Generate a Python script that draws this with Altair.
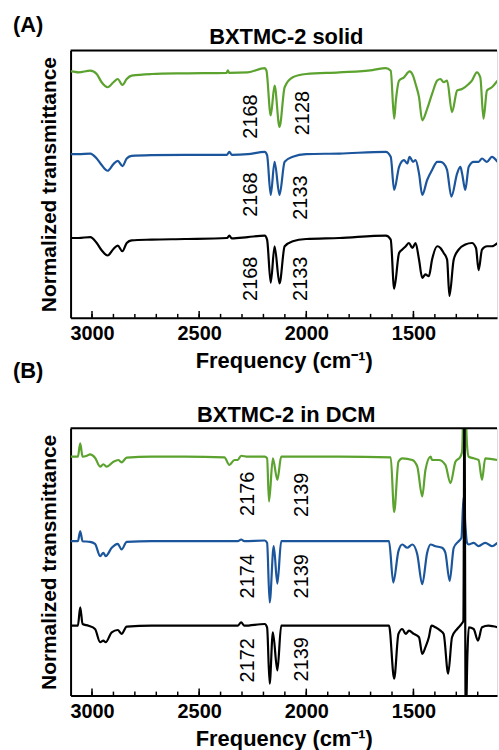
import altair as alt
import pandas as pd

FONT = "Liberation Sans"
GREEN = "#5BA22E"
BLUE = "#1B559C"
BLACK = "#000000"

# ---------------- Panel A: BXTMC-2 solid ----------------
a_green_wn = [3100, 3094, 3063, 3008, 2978, 2955, 2927, 2900, 2880, 2858, 2838, 2815, 2722, 2567, 2372,
              2366, 2360, 2273, 2194, 2186, 2166, 2148, 2125, 2101, 2063, 2001, 1846, 1691, 1629, 1606,
              1590, 1582, 1567, 1544, 1518, 1502, 1490, 1474, 1459, 1436, 1413, 1389, 1374, 1359, 1343,
              1320, 1296, 1273, 1242, 1227, 1204, 1188, 1173, 1157, 1134, 1108]
a_green_t = [248, 248, 247, 248.7, 245.3, 237, 232, 237, 240.3, 234.3, 240.3, 243.7, 245.3, 246, 246.5,
             249, 246.5, 247, 251.3, 248.7, 203.7, 233.7, 192, 232, 242, 245.3, 247, 249.3, 251.3, 248.7,
             200.3, 218.7, 238.7, 242, 248, 243.7, 235.3, 222, 198.7, 210.3, 225.3, 238.7, 240.3, 237, 238.7,
             207, 228.7, 230.3, 235.3, 238.7, 247, 242, 200.3, 228.7, 232, 238.7]

a_blue_wn = [3100, 3094, 3063, 3008, 2978, 2955, 2927, 2900, 2880, 2858, 2838, 2815, 2722, 2567, 2370,
             2359, 2348, 2273, 2194, 2183, 2166, 2148, 2125, 2101, 2063, 2001, 1846, 1629, 1606, 1590,
             1567, 1544, 1529, 1518, 1502, 1490, 1474, 1459, 1436, 1413, 1389, 1374, 1359, 1343, 1323,
             1296, 1281, 1273, 1258, 1242, 1219, 1196, 1180, 1157, 1134, 1108]
a_blue_t = [164.7, 164.7, 164.7, 165.3, 160.3, 153.7, 148, 154.7, 158, 152.7, 160.3, 163, 163.7, 164, 164,
            167, 164, 164.7, 167, 163.7, 123.7, 157, 123.7, 157, 162, 164.7, 165.3, 167, 162, 128.7,
            152, 158.7, 155.3, 162, 157, 158.7, 145.3, 123.7, 138.7, 148.7, 157, 157, 155.3, 148.7, 122,
            145.3, 152, 145.3, 128.7, 152, 157, 157, 160.3, 157, 162, 157]

a_black_wn = [3100, 3094, 3063, 3008, 2978, 2955, 2927, 2900, 2880, 2858, 2838, 2815, 2722, 2567, 2370,
              2359, 2348, 2273, 2194, 2183, 2166, 2148, 2125, 2101, 2063, 2001, 1846, 1629, 1606, 1590,
              1567, 1552, 1536, 1521, 1505, 1490, 1474, 1459, 1444, 1428, 1413, 1389, 1374, 1359, 1343,
              1332, 1312, 1289, 1258, 1227, 1208, 1196, 1180, 1157, 1134, 1108]
a_black_t = [80.3, 80.3, 80.3, 81.3, 75.3, 68, 62.7, 69.3, 72.7, 67, 75.3, 78, 78.7, 79.3, 80.3,
             82.7, 80, 81.3, 82.7, 78.7, 35.3, 72, 34.7, 72, 77, 79.3, 80.3, 82.7, 78.7, 29.3,
             65.3, 68.7, 72, 75.3, 70.3, 75.3, 58.7, 40.3, 43.7, 42, 58.7, 72, 70.3, 65.3, 58.7,
             22, 58.7, 68.7, 73.7, 75.3, 70.3, 48, 68.7, 72, 72, 75.3]

a_label_text = ["2168", "2128", "2168", "2133", "2168", "2133"]
a_label_wn = [2260, 2015, 2260, 2024, 2260, 2024]
a_label_t = [202.5, 206, 124, 121, 39.3, 39.3]

# ---------------- Panel B: BXTMC-2 in DCM ----------------
b_green_wn = [3100, 3094, 3066, 3055, 3044, 3024, 3009, 2986, 2962, 2947, 2931, 2900, 2877, 2862, 2838,
              2722, 2568, 2382, 2359, 2335, 2320, 2304, 2273, 2194, 2183, 2174, 2156, 2135, 2117, 1846,
              1606, 1590, 1570, 1552, 1505, 1482, 1459, 1444, 1420, 1413, 1382, 1351, 1327, 1304, 1281,
              1273, 1266, 1258, 1250, 1242, 1219, 1196, 1180, 1165, 1108]
b_green_t = [240.3, 240.3, 240.3, 253.7, 240.3, 241.3, 242.7, 239.3, 230.3, 232.7, 230.3, 235.3, 237, 234.7, 239.3,
             240.3, 240.3, 239.7, 232, 237, 237, 241.3, 240.3, 240.3, 238.7, 195.3, 238.7, 217, 240.3, 240.3,
             239.7, 184.7, 235.3, 238.7, 237, 230.3, 200.3, 227, 240.3, 237, 237, 232, 213.7, 235.3, 240.3,
             245.3, 290, 290, 252, 240.3, 238.7, 237, 217, 238.7, 237]

b_blue_wn = [3100, 3094, 3066, 3055, 3044, 3009, 2986, 2962, 2947, 2936, 2908, 2880, 2862, 2838, 2722,
             2568, 2320, 2304, 2289, 2194, 2183, 2171, 2152, 2135, 2117, 1846, 1614, 1594, 1570, 1552,
             1529, 1505, 1482, 1459, 1436, 1420, 1397, 1366, 1351, 1331, 1312, 1289, 1276, 1266, 1258,
             1250, 1242, 1219, 1196, 1165, 1134, 1108]
b_blue_t = [155.3, 155.3, 155.3, 165.3, 155.3, 154.7, 152.7, 140.3, 143.7, 140.3, 148.7, 152.7, 147, 154.7, 155.3,
            155.3, 155.3, 157, 155.3, 156, 153.7, 93.7, 150.3, 112.7, 155.3, 155.3, 155.3, 113.7, 145.3, 152,
            148.7, 152, 142, 112, 143.7, 152, 150.3, 148.7, 143.7, 115.3, 148.7, 155.3, 158.7, 200, 172,
            153.7, 152, 153.7, 150.3, 153.7, 150.3, 153.7]

b_black_wn = [3100, 3094, 3066, 3055, 3044, 3016, 2986, 2962, 2947, 2936, 2908, 2880, 2862, 2838, 2722,
              2568, 2320, 2304, 2289, 2194, 2183, 2171, 2156, 2135, 2117, 1846, 1614, 1590, 1570, 1552,
              1536, 1521, 1498, 1474, 1459, 1444, 1428, 1416, 1397, 1374, 1359, 1338, 1320, 1296, 1276,
              1267, 1262, 1256, 1248, 1242, 1219, 1199, 1180, 1150, 1108]
b_black_t = [70.3, 70.3, 70.3, 88.7, 72, 70.3, 67, 53.7, 55.3, 53.7, 63.7, 66, 62, 69.3, 70.3,
             70.3, 70.3, 73.7, 70.3, 72, 68.7, 12, 63.7, 25.3, 70.3, 70.3, 70.3, 17, 62, 67,
             62, 65.3, 62, 58.7, 42, 48.7, 58.7, 70.3, 68.7, 65.3, 62, 22, 58.7, 67, 72,
             75, 300, -30, 42, 68.7, 67, 55.3, 68.7, 70.3, 68.7]

b_label_text = ["2176", "2139", "2174", "2139", "2172", "2139"]
b_label_wn = [2274, 2019, 2274, 2019, 2274, 2019]
b_label_t = [203, 202, 120, 120, 35.5, 36.5]

major_ticks = [3000, 2500, 2000, 1500]
minor_ticks = [3000, 2900, 2800, 2700, 2600, 2500, 2400, 2300, 2200, 2100, 2000,
               1900, 1800, 1700, 1600, 1500, 1400, 1300, 1200]

W, H = 429, 269
X_DOMAIN = [1110, 3100]
Y_DOMAIN = [0, 269]

x_axis = alt.Axis(values=major_ticks, format="d", ticks=False, tickSize=0, grid=False,
                  labelFont=FONT, labelFontSize=20, labelFontWeight="bold", labelColor="black",
                  labelPadding=6, labelFlush=False,
                  domainColor="black", domainWidth=2,
                  title="Frequency (cm\u207b\u00b9)", titleFont=FONT, titleFontSize=22,
                  titleFontWeight="bold", titleColor="black", titlePadding=7)
y_axis = alt.Axis(labels=False, ticks=False, grid=False, domainColor="black", domainWidth=2,
                  title="Normalized transmittance", titleFont=FONT, titleFontSize=21,
                  titleFontWeight="bold", titleColor="black", titlePadding=11)

x_enc = alt.X("wn:Q", scale=alt.Scale(domain=X_DOMAIN, reverse=True, nice=False, zero=False),
              axis=x_axis)
y_enc = alt.Y("t:Q", scale=alt.Scale(domain=Y_DOMAIN, nice=False, zero=False), axis=y_axis)


def panel(series, lab_text, lab_wn, lab_t, title, letter, letter_y):
    layers = []
    for wn, t, col in series:
        assert len(wn) == len(t)
        df = pd.DataFrame({"wn": wn, "t": t})
        layers.append(alt.Chart(df).mark_line(color=col, strokeWidth=2.2, clip=True,
                                              interpolate="monotone")
                      .encode(x=x_enc, y=y_enc))
    lab = pd.DataFrame({"wn": lab_wn, "t": lab_t, "label": lab_text})
    layers.append(alt.Chart(lab).mark_text(angle=270, align="center", baseline="middle",
                                           font=FONT, fontSize=20, color="black")
                  .encode(x=x_enc, y=y_enc, text="label:N"))
    layers.append(alt.Chart(pd.DataFrame({"wn": minor_ticks})).mark_rule(color="black", strokeWidth=1.5)
                  .encode(x=x_enc, y=alt.value(H - 4), y2=alt.value(H)))
    layers.append(alt.Chart(pd.DataFrame({"wn": major_ticks})).mark_rule(color="black", strokeWidth=1.5)
                  .encode(x=x_enc, y=alt.value(H - 7), y2=alt.value(H)))
    layers.append(alt.Chart(pd.DataFrame({"k": [0]})).mark_rule(color="black", strokeWidth=2)
                  .encode(x=alt.value(0), x2=alt.value(W), y=alt.value(0)))
    layers.append(alt.Chart(pd.DataFrame({"letter": [letter]}))
                  .mark_text(align="left", baseline="alphabetic", font=FONT, fontSize=22,
                             fontWeight="bold", color="black")
                  .encode(x=alt.value(-58), y=alt.value(letter_y), text="letter:N"))
    layers.append(alt.Chart(pd.DataFrame({"title": [title]}))
                  .mark_text(align="center", baseline="alphabetic", font=FONT, fontSize=22,
                             fontWeight="bold", color="black")
                  .encode(x=alt.value(217), y=alt.value(-6), text="title:N"))
    return alt.layer(*layers).properties(width=W, height=H)


pa = panel([(a_green_wn, a_green_t, GREEN), (a_blue_wn, a_blue_t, BLUE), (a_black_wn, a_black_t, BLACK)],
           a_label_text, a_label_wn, a_label_t, "BXTMC-2 solid", "(A)", -18.5)
pb = panel([(b_green_wn, b_green_t, GREEN), (b_blue_wn, b_blue_t, BLUE), (b_black_wn, b_black_t, BLACK)],
           b_label_text, b_label_wn, b_label_t, "BXTMC-2 in DCM", "(B)", -50.5)

chart = alt.vconcat(pa, pb, spacing=111, bounds="flush").properties(
    padding={"left": 12, "top": 11.5, "right": 0, "bottom": 0}
).configure_view(stroke=None).configure(background="white")

chart.save("out.html", embed_options={"renderer": "svg", "actions": False})
